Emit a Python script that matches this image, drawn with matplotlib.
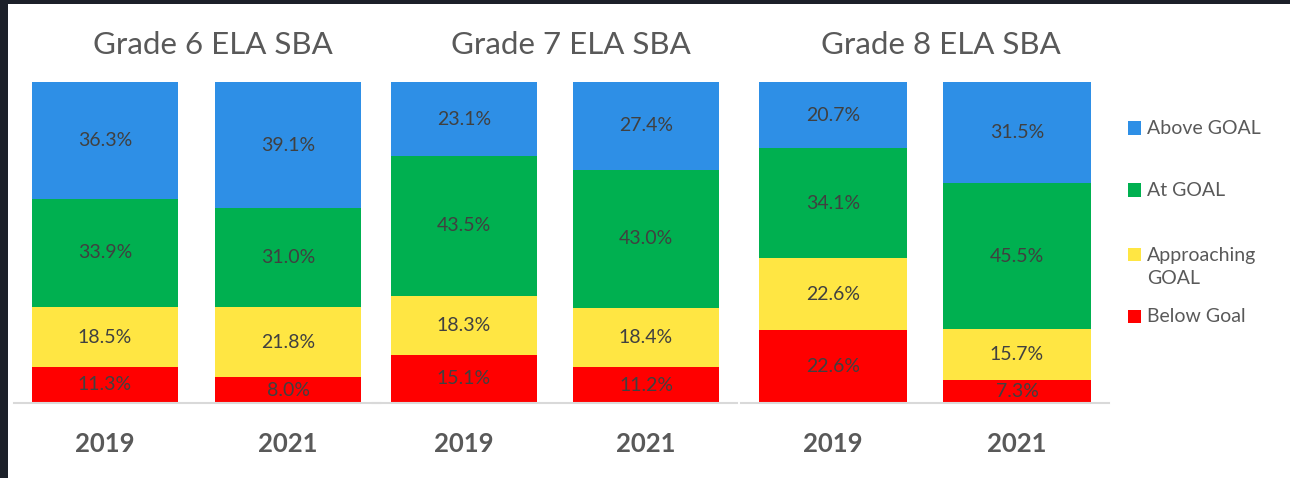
import matplotlib
matplotlib.use("Agg")
import matplotlib.pyplot as plt
from matplotlib.patches import Rectangle

plt.rcParams['font.family'] = ['Lato', 'DejaVu Sans']

grades = ["Grade 6 ELA SBA", "Grade 7 ELA SBA", "Grade 8 ELA SBA"]
years = ["2019", "2021"]
levels = ["Below Goal", "Approaching\nGOAL", "At GOAL", "Above GOAL"]
colors = ["#ff0000", "#ffe643", "#00b050", "#2e8fe6"]

# values per grade, per year, bottom -> top
below = [[11.3, 8.0], [15.1, 11.2], [22.6, 7.3]]
approaching = [[18.5, 21.8], [18.3, 18.4], [22.6, 15.7]]
at_goal = [[33.9, 31.0], [43.5, 43.0], [34.1, 45.5]]
above = [[36.3, 39.1], [23.1, 27.4], [20.7, 31.5]]
series = [below, approaching, at_goal, above]

W, H = 1290, 478
fig = plt.figure(figsize=(W / 100, H / 100), dpi=100, facecolor="#1c2029")
fig.patches.append(Rectangle((8 / W, 0), 1 - 8 / W, 1 - 4 / H, transform=fig.transFigure,
                             facecolor="white", edgecolor="none", zorder=-5))

# left px, width px of each panel
panels = [(13.5, 366), (373, 364), (741, 368)]
bottom_px, top_px = 403, 82

for g, (lx, wx) in enumerate(panels):
    ax = fig.add_axes([lx / W, (H - bottom_px) / H, wx / W, (bottom_px - top_px) / H])
    ax.set_facecolor("none")
    base = [0, 0]
    for s, vals in enumerate(series):
        v = vals[g]
        ax.bar([0, 1], v, width=0.8, bottom=base, color=colors[s], edgecolor="none")
        for i in range(2):
            ax.text(i, base[i] + v[i] / 2, f"{v[i]:.1f}%", ha="center", va="center",
                    fontsize=14, color="#404040")
        base = [base[0] + v[0], base[1] + v[1]]
    ax.set_xlim(-0.5, 1.5)
    ax.set_ylim(0, 100)
    for sp in ["top", "right", "left"]:
        ax.spines[sp].set_visible(False)
    ax.spines["bottom"].set_color("#d9d9d9")
    ax.spines["bottom"].set_linewidth(1.5)
    ax.set_yticks([])
    ax.set_xticks([0, 1])
    ax.set_xticklabels(years, fontsize=18.5, fontweight="bold", color="#595959")
    ax.tick_params(axis="x", length=0, pad=21)
    ax.text(0.5 + 16 / wx, 1 + 37 / (bottom_px - top_px), grades[g], transform=ax.transAxes,
            ha="center", va="center", fontsize=22.5, color="#595959")

# legend
leg_items = [("Above GOAL", 3, 128), ("At GOAL", 2, 190), ("Approaching\nGOAL", 1, 267), ("Below Goal", 0, 316)]
for label, ci, yc in leg_items:
    sq_y = 254 if "\n" in label else yc
    fig.patches.append(Rectangle((1128 / W, (H - sq_y - 6.5) / H), 13 / W, 13 / H,
                                 transform=fig.transFigure, facecolor=colors[ci], edgecolor="none"))
    fig.text(1147 / W, (H - yc) / H, label, ha="left", va="center", fontsize=14,
             color="#595959", linespacing=1.4)

fig.savefig("out.png", dpi=100, facecolor=fig.get_facecolor())
